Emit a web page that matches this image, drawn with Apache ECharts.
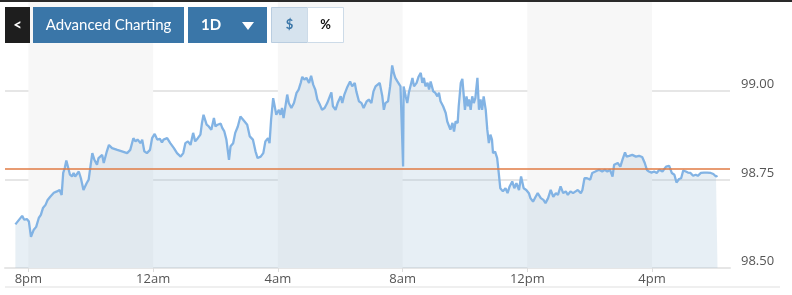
<!DOCTYPE html>
<html>
<head>
<meta charset="utf-8">
<script src="https://cdn.jsdelivr.net/npm/echarts@6/dist/echarts.min.js"></script>
<style>
html,body{margin:0;padding:0;background:#fff;}
#chart{width:792px;height:295px;}
</style>
</head>
<body>
<div id="chart"></div>
<script>
// minutes relative to 8pm
const times = [
-25,-12,-8,-3,1,5,10,15,20,24,
28,33,37,42,49,55,60,64,67,70,
73,76,80,84,87,90,97,101,106,112,
116,119,123,127,132,135,142,145,151,155,
161,171,180,190,196,202,206,210,216,219,
223,228,234,238,243,248,253,257,260,267,
273,280,286,293,298,302,307,312,317,321,
326,331,334,337,343,347,352,357,360,364,
370,373,377,381,386,389,394,398,403,408,
411,416,421,426,432,437,441,447,452,456,
461,464,467,471,474,477,482,485,488,491,
495,498,501,506,511,516,520,524,527,531,
535,540,544,548,552,556,561,565,570,575,
580,583,586,591,595,601,604,608,613,619,
623,628,631,636,641,645,651,655,660,664,
668,672,676,681,684,687,692,696,700,703,
706,710,713,716,719,721,722,726,729,732,
735,739,742,747,751,755,758,761,764,768,
771,774,779,783,787,790,793,798,803,806,
809,812,816,819,822,826,828,832,835,838,
840,843,846,848,851,854,857,860,864,867,
870,873,876,880,883,886,889,892,894,898,
902,905,908,913,918,922,926,931,935,939,
944,948,953,958,963,966,971,976,980,986,
991,995,1000,1005,1010,1015,1019,1024,1029,1034,
1038,1043,1048,1053,1057,1063,1066,1070,1075,1081,
1085,1091,1098,1104,1109,1114,1119,1124,1127,1128,
1134,1139,1143,1148,1151,1156,1162,1169,1175,1181,
1186,1190,1194,1199,1204,1209,1214,1220,1227,1233,
1238,1243,1247,1252,1256,1260,1265,1269,1274,1279,
1284,1288,1294,1300,1306,1313,1318,1323,1326
];
const prices = [
98.623,98.647,98.636,98.638,98.631,98.588,98.607,98.616,98.641,98.650,
98.669,98.678,98.692,98.701,98.712,98.716,98.720,98.706,98.768,98.782,
98.803,98.786,98.763,98.758,98.768,98.758,98.772,98.753,98.720,98.739,
98.749,98.782,98.824,98.805,98.791,98.810,98.819,98.796,98.829,98.847,
98.838,98.833,98.829,98.824,98.833,98.866,98.857,98.862,98.852,98.862,
98.829,98.824,98.833,98.866,98.878,98.862,98.864,98.854,98.862,98.866,
98.852,98.838,98.824,98.814,98.824,98.852,98.857,98.847,98.881,98.857,
98.866,98.876,98.909,98.932,98.904,98.899,98.890,98.923,98.899,98.904,
98.907,98.895,98.885,98.862,98.805,98.843,98.852,98.881,98.899,98.927,
98.932,98.913,98.904,98.871,98.862,98.829,98.810,98.814,98.824,98.857,
98.866,98.852,98.918,98.979,98.979,98.932,98.946,98.932,98.951,98.923,
98.960,98.989,98.965,98.951,98.965,98.994,99.003,99.022,99.039,99.031,
99.036,99.022,99.042,99.017,99.003,98.975,98.960,98.946,98.951,98.965,
98.984,98.995,98.956,98.946,98.965,98.984,98.965,98.989,99.008,99.026,
99.012,99.022,98.998,98.970,98.965,98.951,98.970,98.975,98.965,98.998,
99.012,99.017,99.022,98.984,98.946,98.965,98.970,99.012,99.071,99.050,
99.036,99.026,99.022,99.012,99.008,98.786,99.012,98.984,98.965,98.994,
99.012,99.036,99.012,99.022,99.040,99.050,99.022,99.036,99.012,99.022,
99.003,99.026,98.998,98.994,98.984,98.994,98.970,98.956,98.937,98.913,
98.918,98.890,98.909,98.885,98.913,98.909,98.956,99.022,99.033,99.036,
98.946,98.984,98.956,98.975,98.946,98.984,98.965,98.979,99.036,98.946,
98.975,98.946,98.984,98.946,98.890,98.852,98.876,98.862,98.824,98.828,
98.810,98.768,98.725,98.716,98.725,98.711,98.730,98.744,98.725,98.739,
98.720,98.758,98.725,98.720,98.711,98.697,98.687,98.701,98.711,98.697,
98.692,98.683,98.697,98.720,98.701,98.711,98.706,98.730,98.711,98.716,
98.706,98.716,98.711,98.716,98.720,98.711,98.720,98.753,98.753,98.749,
98.768,98.772,98.777,98.772,98.777,98.772,98.777,98.758,98.791,98.796,
98.796,98.786,98.805,98.826,98.814,98.816,98.819,98.814,98.816,98.813,
98.796,98.777,98.772,98.769,98.772,98.768,98.777,98.772,98.786,98.788,
98.768,98.763,98.741,98.751,98.753,98.775,98.772,98.769,98.768,98.760,
98.763,98.760,98.768,98.769,98.769,98.768,98.765,98.758,98.760
];
const tickMinutes = [0, 240, 480, 720, 960, 1200];
const tickLabels = ['8pm', '12am', '4am', '8am', '12pm', '4pm'];
const bandStarts = [0, 480, 960];
const bandEnds = [240, 720, 1200];
const prevClose = 98.783;
const yTicks = [98.50, 98.75, 99.00, 99.25];

const chart = echarts.init(document.getElementById('chart'), null, {renderer: 'canvas'});
const seriesData = times.map((t, i) => [t, prices[i]]);
const blue = '#3a76a8';
const btnFont = '15px Lato';

const option = {
  animation: false,
  grid: {left: 5, right: 62, top: 2, bottom: 27, containLabel: false, outerBoundsMode: 'none'},
  xAxis: {
    type: 'value', min: -45, max: 1350,
    axisLine: {show: true, lineStyle: {color: '#e6e6e6', width: 2}},
    axisTick: {show: true, customValues: tickMinutes, length: 4, lineStyle: {color: '#dddddd'}},
    axisLabel: {
      customValues: tickMinutes, margin: 5,
      color: '#555', fontSize: 13, fontFamily: 'Open Sans',
      formatter: v => tickLabels[tickMinutes.indexOf(v)] || ''
    },
    splitLine: {show: false}
  },
  yAxis: {
    type: 'value', position: 'right', min: yTicks[0], max: yTicks[3], interval: 0.25,
    axisLine: {show: false}, axisTick: {show: false},
    axisLabel: {color: '#555', fontSize: 13, fontFamily: 'Open Sans', margin: 11,
      verticalAlign: 'bottom', showMaxLabel: false, formatter: v => v.toFixed(2)},
    splitLine: {showMaxLine: false, lineStyle: {color: '#e6e6e6', width: 2}}
  },
  series: [
    {
      type: 'line', data: [], z: 1, silent: true,
      markArea: {
        silent: true,
        itemStyle: {color: '#f7f7f7'},
        data: bandStarts.map((s, i) => [{xAxis: s}, {xAxis: bandEnds[i]}])
      }
    },
    {
      type: 'line', data: seriesData, z: 3, symbol: 'none', silent: true,
      lineStyle: {color: '#82b3e4', width: 2.3},
      areaStyle: {origin: 'start', color: 'rgba(160,190,214,0.36)'},
      markLine: {
        silent: true, symbol: ['none', 'none'], label: {show: false},
        lineStyle: {color: '#e07b45', width: 1.5, type: 'solid'},
        data: [{yAxis: prevClose}]
      }
    }
  ],
  graphic: [
    {type: 'rect', shape: {x: 0, y: 0, width: 792, height: 2}, style: {fill: '#2a2a2a'}, z: 100},
    {type: 'line', shape: {x1: 5, y1: 287, x2: 780, y2: 287}, style: {stroke: '#eaeaea', lineWidth: 1.5}, z: 100},
    {type: 'rect', shape: {x: 5, y: 7, width: 25, height: 36}, style: {fill: '#1e1e1e'}, z: 100},
    {type: 'text', x: 17.5, y: 25, style: {text: '<', fill: '#fff', font: 'bold 15px Lato', align: 'center', verticalAlign: 'middle'}, z: 101},
    {type: 'rect', shape: {x: 33, y: 7, width: 151, height: 36}, style: {fill: blue}, z: 100},
    {type: 'text', x: 108.5, y: 25, style: {text: 'Advanced Charting', fill: '#fff', font: btnFont, align: 'center', verticalAlign: 'middle'}, z: 101},
    {type: 'rect', shape: {x: 188, y: 7, width: 79, height: 36}, style: {fill: blue}, z: 100},
    {type: 'text', x: 211, y: 25, style: {text: '1D', fill: '#fff', font: 'bold 15px Lato', align: 'center', verticalAlign: 'middle'}, z: 101},
    {type: 'polygon', shape: {points: [[242, 22], [254, 22], [248, 30]]}, style: {fill: '#fff'}, z: 101},
    {type: 'rect', shape: {x: 271.5, y: 7.5, width: 36, height: 35}, style: {fill: '#d6e3ee', stroke: '#b9cde0', lineWidth: 1}, z: 100},
    {type: 'text', x: 289.5, y: 25, style: {text: '$', fill: blue, font: 'bold 13px Lato', align: 'center', verticalAlign: 'middle'}, z: 101},
    {type: 'rect', shape: {x: 307.5, y: 7.5, width: 36, height: 35}, style: {fill: '#ffffff', stroke: '#cddbe8', lineWidth: 1}, z: 100},
    {type: 'text', x: 325.5, y: 25, style: {text: '%', fill: '#111', font: 'bold 13px Lato', align: 'center', verticalAlign: 'middle'}, z: 101}
  ]
};
chart.setOption(option);
</script>
</body>
</html>
